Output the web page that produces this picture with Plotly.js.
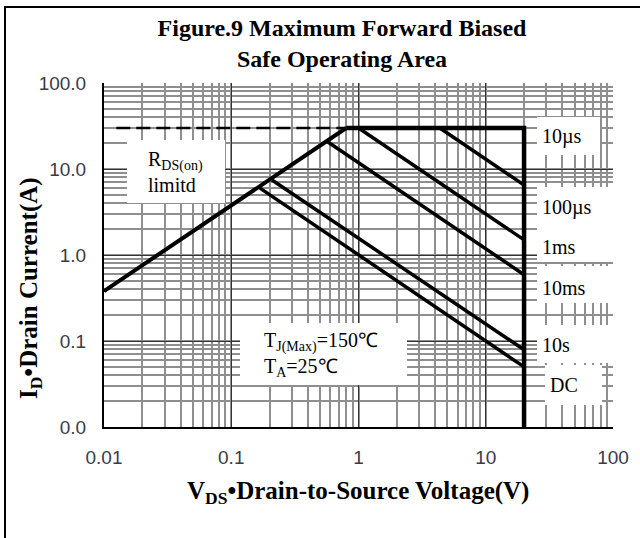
<!DOCTYPE html>
<html>
<head>
<meta charset="utf-8">
<script src="https://cdn.plot.ly/plotly-3.0.1.min.js"></script>
<style>html,body{margin:0;padding:0;background:#fff;}#chart{width:640px;height:538px;}</style>
</head>
<body>
<div id="chart"></div>
<script>
// Data (V in volts, I in amperes)
const xTickVals = [0.01, 0.1, 1, 10, 100];
const xTickText = ['0.01', '0.1', '1', '10', '100'];
const yTickVals = [0.01, 0.1, 1, 10, 100];
const yTickText = ['0.0', '0.1', '1.0', '10.0', '100.0'];

const dashV = [0.0125, 0.8];   const dashI = [30, 30];
const rdsV  = [0.01, 0.8];     const rdsI  = [0.38, 30];
const limV  = [0.8, 20, 20];   const limI  = [30, 30, 0.01];
const us10V = [4.35, 20];      const us10I = [30, 6.5];
const us100V= [1.0, 20];       const us100I= [30, 1.5];
const ms1V  = [0.575, 20];     const ms1I  = [20.6, 0.59];
const ms10V = [0.209, 20];     const ms10I = [7.45, 0.079];
const dcV   = [0.168, 20];     const dcI   = [6.0, 0.05];

// layout geometry in pixels
const L = 104, R = 613, T = 83, B = 427;
const W = R - L, H = B - T;
const px = x => (x - L) / W;
const py = y => (B - y) / H;

const serif = 'Liberation Serif, Times New Roman, serif';
const sans = 'Liberation Sans, Arial, sans-serif';

function line(x, y, w, dash) {
  return {x: x, y: y, type: 'scatter', mode: 'lines', hoverinfo: 'skip',
          line: {color: '#000', width: w, dash: dash || 'solid'}, showlegend: false};
}
const traces = [
  line(dashV, dashI, 2.5, '14px,6px'),
  line(rdsV, rdsI, 4),
  line(limV, limI, 4.5),
  line(us10V, us10I, 3.5),
  line(us100V, us100I, 3.5),
  line(ms1V, ms1I, 3.5),
  line(ms10V, ms10I, 3.5),
  line(dcV, dcI, 3.5)
];

function box(x0, y0, x1, y1) {
  return {type: 'rect', xref: 'paper', yref: 'paper', layer: 'above',
          x0: px(x0), x1: px(x1), y0: py(y1), y1: py(y0),
          fillcolor: '#fff', line: {width: 0}};
}
const shapes = [
  box(127, 140, 225, 203),
  box(537, 117, 600, 155),
  box(537, 187, 613, 262),
  box(537, 266, 613, 303),
  box(537, 325, 613, 363),
  box(545, 365, 602, 405),
  box(240, 323, 407, 385),
  // outer frame (left and top edges)
  {type: 'path', xref: 'paper', yref: 'paper', layer: 'above',
   path: 'M ' + px(5) + ' ' + py(540) + ' L ' + px(5) + ' ' + py(7) + ' L ' + px(641) + ' ' + py(7),
   line: {color: '#000', width: 2}}
];

function lab(text, x, y, size, anchor) {
  return {text: text, xref: 'paper', yref: 'paper', x: px(x), y: py(y),
          xanchor: anchor || 'left', yanchor: 'middle', showarrow: false, align: 'left',
          font: {family: serif, size: size || 20, color: '#000'}};
}
const annotations = [
  lab('R<sub>DS(on)</sub><br>limitd', 146, 172, 20),
  lab('10µs', 540, 137),
  lab('100µs', 540, 207),
  lab('1ms', 540, 247),
  lab('10ms', 540, 288),
  lab('10s', 540, 345),
  lab('DC', 548, 385),
  lab('T<sub>J(Max)</sub>=150℃<br>T<sub>A</sub>=25℃', 262, 354, 20),
  {text: '<b>V<sub>DS</sub>•Drain-to-Source Voltage(V)</b>', xref: 'paper', yref: 'paper',
   x: px(358), y: py(493), xanchor: 'center', yanchor: 'middle', showarrow: false,
   font: {family: serif, size: 25, color: '#000'}},
  {text: '<b>I<sub>D</sub>•Drain Current(A)</b>', xref: 'paper', yref: 'paper',
   x: px(30), y: py(288), xanchor: 'center', yanchor: 'middle', showarrow: false, textangle: -90,
   font: {family: serif, size: 25, color: '#000'}}
];

const axisCommon = {
  type: 'log', showgrid: true, gridcolor: '#333', gridwidth: 1,
  minor: {dtick: 'D1', showgrid: true, gridcolor: '#8f8f8f', gridwidth: 2, ticks: ''},
  showline: true, linecolor: '#000', linewidth: 2, mirror: false,
  ticks: '', zeroline: false, tickmode: 'array',
  tickfont: {family: sans, size: 19, color: '#3b3b48'}
};

const layout = {
  width: 640, height: 538,
  margin: {l: L, r: 640 - R, t: T, b: 538 - B},
  paper_bgcolor: '#fff', plot_bgcolor: '#fff',
  title: {text: '<b>Figure.9 Maximum Forward Biased<br>Safe Operating Area</b>',
          x: px(342), xref: 'paper', xanchor: 'center',
          y: 1 - 36 / 538, yref: 'container', yanchor: 'middle',
          font: {family: serif, size: 24, color: '#000'}},
  xaxis: Object.assign({}, axisCommon, {range: [-2, 2], tickvals: xTickVals, ticktext: xTickText, ticklabelstandoff: 12}),
  yaxis: Object.assign({}, axisCommon, {range: [-2, 2], tickvals: yTickVals, ticktext: yTickText, ticklabelstandoff: 12}),
  shapes: shapes,
  annotations: annotations,
  showlegend: false
};

Plotly.newPlot('chart', traces, layout, {displayModeBar: false, staticPlot: true});
</script>
</body>
</html>
